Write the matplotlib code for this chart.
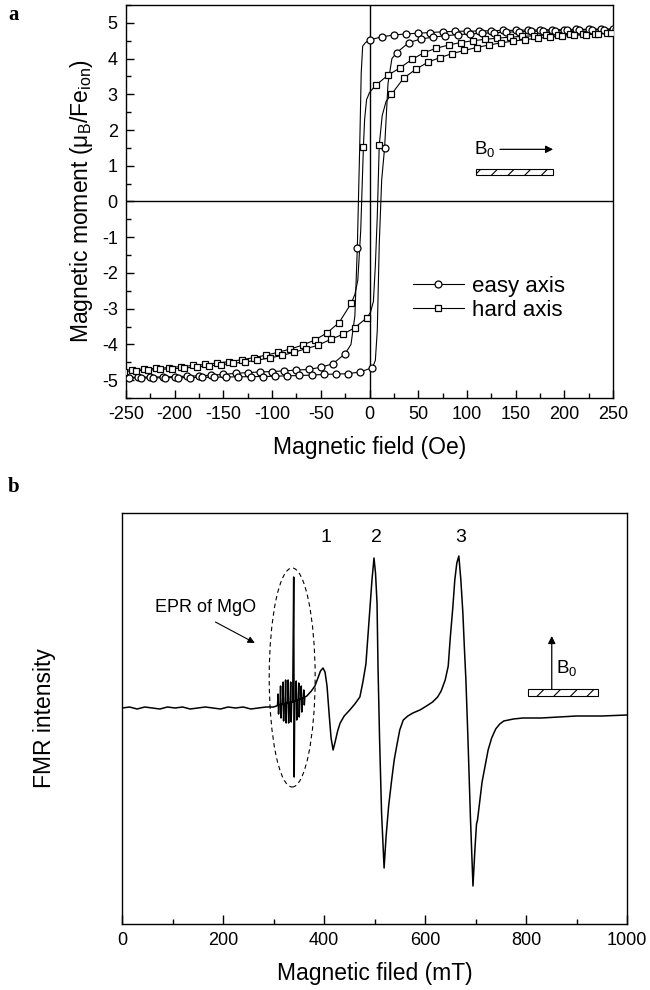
import numpy as np
import matplotlib
matplotlib.use('Agg')
import matplotlib.pyplot as plt
from matplotlib.patches import Ellipse, Rectangle
from matplotlib.lines import Line2D
from matplotlib.ticker import MultipleLocator

plt.rcParams['font.family'] = ['Liberation Sans', 'DejaVu Sans']
plt.rcParams['mathtext.fontset'] = 'custom'
plt.rcParams['mathtext.rm'] = 'Liberation Sans'
plt.rcParams['mathtext.it'] = 'Liberation Sans:italic'
plt.rcParams['axes.unicode_minus'] = False
plt.rcParams['hatch.linewidth'] = 0.8

# ---------------- Panel a : hysteresis loops ----------------
# easy axis, descending branch (marked points)
easy_desc_x = np.arange(250, -250.1, -12.5)
easy_desc_y = [4.83, 4.83, 4.82, 4.82, 4.81, 4.81, 4.80, 4.80, 4.79, 4.79,
               4.78, 4.77, 4.77, 4.76, 4.75, 4.73, 4.71, 4.69, 4.66, 4.61,
               4.52, -1.29, -4.26, -4.54, -4.64, -4.70, -4.72, -4.74, -4.76, -4.77,
               -4.79, -4.81, -4.84, -4.86, -4.88, -4.89, -4.90, -4.91, -4.91, -4.92,
               -4.92]
# extra line points through the switching step
easy_desc_jx = [-4, -7, -8.5, -10, -15, -19]
easy_desc_jy = [4.45, 4.35, 3.6, 1.6, -3.2, -4.0]

# easy axis, ascending branch
easy_asc_x = np.arange(-247, 253.1, 12.5)
easy_asc_y = [-4.94, -4.94, -4.94, -4.93, -4.93, -4.93, -4.92, -4.92, -4.91, -4.91,
              -4.90, -4.90, -4.89, -4.88, -4.87, -4.86, -4.84, -4.83, -4.82, -4.77,
              -4.65, 1.50, 4.17, 4.45, 4.55, 4.60, 4.64, 4.67, 4.69, 4.71,
              4.72, 4.74, 4.75, 4.76, 4.77, 4.78, 4.79, 4.80, 4.81, 4.81,
              4.82]
easy_asc_jx = [6, 8, 10, 12.5, 19, 23]
easy_asc_jy = [-4.45, -3.6, -1.2, 0.6, 3.3, 4.0]

# hard axis, descending branch
hard_desc_x = np.arange(256.25, -256.3, -12.5)
hard_desc_y = [4.72, 4.71, 4.70, 4.69, 4.68, 4.67, 4.66, 4.64, 4.62, 4.60,
               4.57, 4.54, 4.50, 4.45, 4.38, 4.29, 4.17, 3.98, 3.74, 3.53,
               3.25, 1.53, -2.85, -3.39, -3.68, -3.88, -4.02, -4.13, -4.22, -4.30,
               -4.37, -4.43, -4.48, -4.52, -4.56, -4.59, -4.62, -4.65, -4.67, -4.69,
               -4.71, -4.72]
hard_desc_jx = [0, -3, -5, -9, -12, -15]
hard_desc_jy = [3.05, 2.85, 2.3, -0.8, -2.2, -2.6]

# hard axis, ascending branch
hard_asc_x = np.arange(-252.5, 260.1, 12.5)
hard_asc_y = [-4.76, -4.74, -4.72, -4.70, -4.68, -4.66, -4.63, -4.60, -4.57, -4.53,
              -4.49, -4.44, -4.38, -4.31, -4.22, -4.12, -4.02, -3.86, -3.72, -3.53,
              -3.25, 1.57, 3.00, 3.45, 3.70, 3.90, 4.03, 4.14, 4.23, 4.31,
              4.38, 4.44, 4.49, 4.53, 4.57, 4.60, 4.63, 4.65, 4.67, 4.69,
              4.71, 4.72]
hard_asc_jx = [1, 4, 6, 8, 13, 17]
hard_asc_jy = [-3.1, -2.8, -1.8, -0.4, 2.4, 2.8]

legend_labels = ['easy axis', 'hard axis']

# ---------------- Panel b : FMR spectrum ----------------
fmr_field = [0, 15, 30, 45, 60, 75, 90, 105, 120, 135, 150, 165, 180, 195, 210, 225, 240, 255,
             270, 285, 300, 306,
             308, 309, 310, 311, 313, 314, 315, 316, 318, 319, 320, 321, 323, 324, 325, 326,
             328, 329, 330, 331, 333, 334, 335, 336, 338, 340, 341, 342, 344, 345, 346, 347,
             349, 350, 351, 352, 354, 355, 356, 357, 359, 360, 361, 362,
             366, 375, 382, 388, 393, 398, 402, 406, 410, 414, 418, 422, 427, 432, 440, 451,
             461, 471, 477, 483, 487, 491, 495, 499, 502, 505, 507, 510, 514, 519, 523, 528,
             534, 539, 544, 550, 557, 566, 576, 590, 603, 615, 625, 632, 640, 646, 650, 655,
             659, 663, 667, 671, 675, 678, 681, 685, 690, 695, 699, 702, 704, 708, 713, 719,
             725, 732, 740, 748, 756, 775, 794, 830, 867, 900, 950, 1000]
fmr_signal = [0, 1, -1, 1, 0, -1, 1, 0, 1, -1, 0, 1, 0, -1, 1, 0, 1, -1,
              0, 1, 1, 2,
              3, 14, -6, 3, 4, 22, -10, 4, 4, 26, -13, 4, 5, 28, -15, 5,
              5, 28, -15, 5, 6, 26, -14, 6, 6, 131, -69, 7, 7, 27, -12, 8,
              8, 25, -9, 9, 9, 22, -4, 10, 10, 18, 3, 11,
              12, 17, 22, 30, 37, 40, 36, 22, -5, -30, -42, -34, -23, -15, -8, -2,
              4, 11, 26, 44, 72, 100, 128, 150, 135, 105, 40, -30, -105, -160, -128, -98,
              -72, -52, -38, -22, -12, -8, -5, -2, 2, 6, 11, 17, 28, 42, 70, 100,
              128, 145, 152, 128, 95, 60, 28, -30, -110, -178, -140, -116, -112, -95, -74, -58,
              -42, -30, -21, -16, -13, -11, -10, -10, -9, -8, -8, -7]
peak_labels = ['1', '2', '3']
peak_label_x = [404, 503, 671]

fig = plt.figure(figsize=(6.5, 9.9), dpi=100)
axA = fig.add_axes([126/650, 1-398/990, 487/650, 393/990])
axB = fig.add_axes([122/650, 1-924/990, 505/650, 411/990])

LW = 0.8
MS = 5


def branch(ax, gx, gy, ex, ey, marker):
    x = np.concatenate([np.asarray(gx, float), np.asarray(ex, float)])
    y = np.concatenate([np.asarray(gy, float), np.asarray(ey, float)])
    order = np.argsort(x)
    ax.plot(x[order], y[order], '-', color='k', lw=LW, zorder=3)
    ax.plot(gx, gy, linestyle='none', marker=marker, ms=MS, mfc='white',
            mec='k', mew=0.9, zorder=4)


axA.axhline(0, color='k', lw=1.0, zorder=1)
axA.axvline(0, color='k', lw=1.0, zorder=1)
branch(axA, easy_desc_x, easy_desc_y, easy_desc_jx, easy_desc_jy, 'o')
branch(axA, easy_asc_x, easy_asc_y, easy_asc_jx, easy_asc_jy, 'o')
branch(axA, hard_desc_x, hard_desc_y, hard_desc_jx, hard_desc_jy, 's')
branch(axA, hard_asc_x, hard_asc_y, hard_asc_jx, hard_asc_jy, 's')

axA.set_xlim(-250, 250)
axA.set_ylim(-5.5, 5.5)
axA.xaxis.set_major_locator(MultipleLocator(50))
axA.xaxis.set_minor_locator(MultipleLocator(25))
axA.yaxis.set_major_locator(MultipleLocator(1))
axA.yaxis.set_minor_locator(MultipleLocator(0.5))
axA.tick_params(which='both', direction='in', top=False, right=False, width=1.0,
                labelsize=13, pad=6)
axA.tick_params(which='major', length=6)
axA.tick_params(which='minor', length=3.5)
for s in axA.spines.values():
    s.set_linewidth(1.0)
axA.set_xlabel('Magnetic field (Oe)', fontsize=16.5, labelpad=9)
axA.set_ylabel('Magnetic moment (μ$_\\mathregular{B}$/Fe$_\\mathregular{ion}$)',
               fontsize=16.5, labelpad=5)

# B0 direction sketch (panel a)
axA.annotate('', xy=(188.5, 1.46), xytext=(134, 1.46),
             arrowprops=dict(arrowstyle='-|>', color='k', lw=0.9, mutation_scale=11,
                             shrinkA=0, shrinkB=0))
axA.text(118.6, 1.46, 'B$_\\mathregular{0}$', fontsize=13.5, ha='center', va='center')
axA.add_patch(Rectangle((109, 0.73), 79, 0.17, facecolor='white', edgecolor='k',
                        hatch='//', lw=0.8, zorder=5))

handles = [Line2D([], [], color='k', lw=LW, marker='o', ms=MS, mfc='white', mec='k', mew=0.9),
           Line2D([], [], color='k', lw=LW, marker='s', ms=MS, mfc='white', mec='k', mew=0.9)]
axA.legend(handles, legend_labels, loc='center left', bbox_to_anchor=(0.589, 0.254),
           frameon=False, fontsize=16, handlelength=2.3, handletextpad=0.35,
           labelspacing=0.15, borderpad=0, borderaxespad=0)

# ---------------- Panel b drawing ----------------
axB.plot(fmr_field, fmr_signal, color='k', lw=1.1, zorder=3)
axB.set_xlim(0, 1000)
axB.set_ylim(-216, 195)
axB.xaxis.set_major_locator(MultipleLocator(200))
axB.xaxis.set_minor_locator(MultipleLocator(100))
axB.tick_params(which='both', direction='in', top=False, right=False, left=False,
                labelleft=False, width=1.0, labelsize=13, pad=6)
axB.tick_params(which='major', length=6.5)
axB.tick_params(which='minor', length=3.5)
for s in axB.spines.values():
    s.set_linewidth(1.0)
axB.set_xlabel('Magnetic filed (mT)', fontsize=16.5, labelpad=9)
axB.set_ylabel('FMR intensity', fontsize=16.5)
axB.yaxis.set_label_coords(-0.131, 0.5)

axB.add_patch(Ellipse((337, 30.5), 91, 219, fill=False, ls=(0, (4, 3)), lw=0.8,
                      ec='k', zorder=2))
for lab, lx in zip(peak_labels, peak_label_x):
    axB.text(lx, 170, lab, fontsize=14, ha='center', va='center')
axB.text(166, 100, 'EPR of MgO', fontsize=13, ha='center', va='center')
axB.annotate('', xy=(263, 65), xytext=(185, 86),
             arrowprops=dict(arrowstyle='-|>', color='k', lw=0.8, mutation_scale=10,
                             shrinkA=0, shrinkB=0))
axB.annotate('', xy=(851, 72), xytext=(851, 19),
             arrowprops=dict(arrowstyle='-|>', color='k', lw=0.9, mutation_scale=11,
                             shrinkA=0, shrinkB=0))
axB.text(881, 40, 'B$_\\mathregular{0}$', fontsize=13.5, ha='center', va='center')
axB.add_patch(Rectangle((804, 12), 139, 7, facecolor='white', edgecolor='k',
                        hatch='//', lw=0.8, zorder=5))

fig.text(8/650, 1-15/990, 'a', fontfamily='Liberation Serif', fontweight='bold',
         fontsize=15, ha='left', va='center')
fig.text(8/650, 1-487/990, 'b', fontfamily='Liberation Serif', fontweight='bold',
         fontsize=15, ha='left', va='center')

fig.savefig('out.png', dpi=100)
